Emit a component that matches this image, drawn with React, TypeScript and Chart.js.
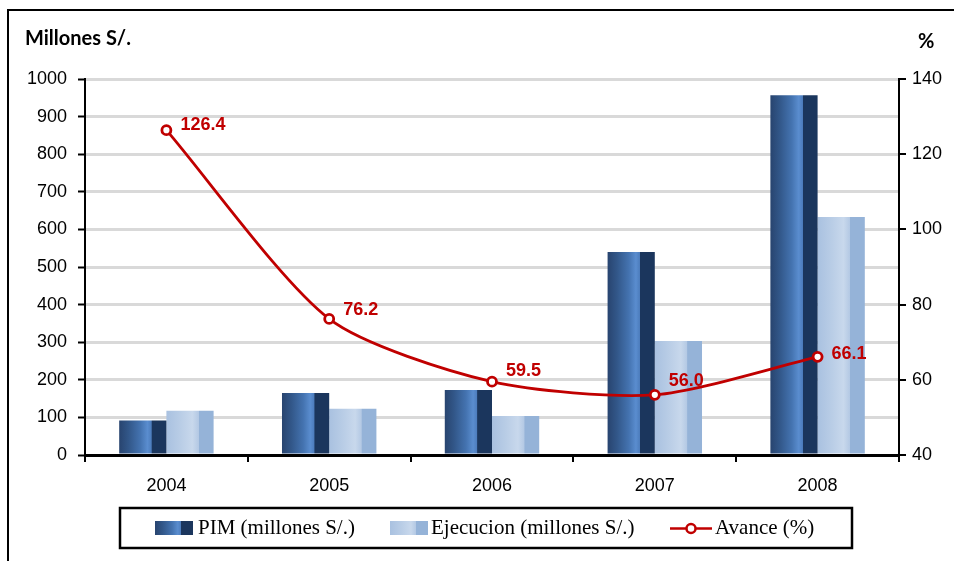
import React, { useEffect, useRef } from "react";
import { Chart, registerables } from "chart.js";

Chart.register(...registerables);

const categories = ["2004", "2005", "2006", "2007", "2008"];
const pimValues = [92, 165, 173, 540, 957];
const ejecucionValues = [118, 123, 104, 303, 633];
const avanceValues = [126.4, 76.2, 59.5, 56.0, 66.1];
const leftTicks = { min: 0, max: 1000, step: 100 };
const rightTicks = { min: 40, max: 140, step: 20 };
const seriesNames = ["PIM (millones S/.)", "Ejecucion (millones S/.)", "Avance (%)"];

const CAT_PCT = 0.58;
const RED = "#c00000";

const PIM_STOPS: [number, string][] = [
  [0, "#28446f"],
  [0.2, "#325789"],
  [0.45, "#4473b0"],
  [0.6, "#5a8dcf"],
  [0.68, "#4d7dbd"],
  [0.695, "#1b365d"],
  [1, "#1b365d"],
];
const EJE_STOPS: [number, string][] = [
  [0, "#a9c1e0"],
  [0.3, "#b9cde6"],
  [0.55, "#c8d8ec"],
  [0.68, "#b4c9e4"],
  [0.695, "#95b3d8"],
  [1, "#95b3d8"],
];

function gradientFor(chart: any, x0: number, w: number, stops: [number, string][]) {
  const g = chart.ctx.createLinearGradient(x0, 0, x0 + w, 0);
  stops.forEach(([o, c]) => g.addColorStop(o, c));
  return g;
}

function barBg(stops: [number, string][], slot: number) {
  return (ctx: any) => {
    const chart = ctx.chart;
    const xs = chart.scales && chart.scales.x;
    if (ctx.type !== "data" || !xs || !chart.chartArea) return stops[0][1];
    const center = xs.getPixelForValue(ctx.dataIndex);
    const catW = (xs.right - xs.left) / categories.length;
    const w = (catW * CAT_PCT) / 2;
    const x0 = slot === 0 ? center - w : center;
    return gradientFor(chart, x0, w, stops);
  };
}

const labelDy = [-5, -9, -11, -14, -3];

const decorPlugin = {
  id: "decor",
  afterDatasetsDraw(chart: any) {
    const ctx = chart.ctx;
    const meta = chart.getDatasetMeta(0);
    ctx.save();
    ctx.fillStyle = RED;
    ctx.font = "bold 18px 'Liberation Sans', Arial, sans-serif";
    ctx.textAlign = "left";
    ctx.textBaseline = "middle";
    meta.data.forEach((pt: any, i: number) => {
      ctx.fillText(avanceValues[i].toFixed(1), pt.x + 14, pt.y + labelDy[i]);
    });
    ctx.restore();
  },
  afterDraw(chart: any) {
    const ctx = chart.ctx;
    ctx.save();
    // outer frame
    ctx.strokeStyle = "#000";
    ctx.lineWidth = 2;
    ctx.beginPath();
    ctx.moveTo(8, 561);
    ctx.lineTo(8, 10);
    ctx.lineTo(954, 10);
    ctx.stroke();

    // axis titles
    ctx.fillStyle = "#000";
    ctx.font = "bold 20px Lato, 'Liberation Sans', sans-serif";
    ctx.textBaseline = "middle";
    ctx.textAlign = "left";
    ctx.fillText("Millones S/.", 25, 39);
    ctx.fillText("%", 918, 42);

    // legend box
    ctx.lineWidth = 2.5;
    ctx.strokeRect(120, 508, 732, 40);
    const ly = 528.5;
    ctx.font = "21px 'Liberation Serif', 'Times New Roman', serif";
    ctx.textBaseline = "middle";
    // PIM
    ctx.fillStyle = gradientFor(chart, 155, 38, PIM_STOPS);
    ctx.fillRect(155, 521, 38, 14);
    ctx.fillStyle = "#000";
    ctx.fillText(seriesNames[0], 198, ly);
    // Ejecucion
    ctx.fillStyle = gradientFor(chart, 390, 38, EJE_STOPS);
    ctx.fillRect(390, 521, 38, 14);
    ctx.fillStyle = "#000";
    ctx.fillText(seriesNames[1], 431, ly);
    // Avance
    ctx.strokeStyle = RED;
    ctx.lineWidth = 2.5;
    ctx.beginPath();
    ctx.moveTo(670, ly);
    ctx.lineTo(712, ly);
    ctx.stroke();
    ctx.beginPath();
    ctx.arc(691, ly, 4.5, 0, Math.PI * 2);
    ctx.fillStyle = "#fff";
    ctx.fill();
    ctx.stroke();
    ctx.fillStyle = "#000";
    ctx.fillText(seriesNames[2], 715, ly);
    ctx.restore();
  },
};

export default function App() {
  const ref = useRef<HTMLCanvasElement | null>(null);

  useEffect(() => {
    if (!ref.current) return;
    const tickFont = { family: "'Liberation Sans', Arial, sans-serif", size: 18 };
    const plain = (v: any) => String(v);
    const chart = new Chart(ref.current, {
      type: "bar",
      data: {
        labels: categories,
        datasets: [
          {
            type: "line",
            label: seriesNames[2],
            data: avanceValues,
            yAxisID: "y1",
            borderColor: RED,
            borderWidth: 2.8,
            tension: 0.25,
            pointRadius: 4.5,
            pointBackgroundColor: "#fff",
            pointBorderColor: RED,
            pointBorderWidth: 2.8,
            order: 0,
          } as any,
          {
            type: "bar",
            label: seriesNames[0],
            data: pimValues,
            yAxisID: "y",
            backgroundColor: barBg(PIM_STOPS, 0),
            borderWidth: 0,
            barPercentage: 1,
            categoryPercentage: CAT_PCT,
            order: 1,
          },
          {
            type: "bar",
            label: seriesNames[1],
            data: ejecucionValues,
            yAxisID: "y",
            backgroundColor: barBg(EJE_STOPS, 1),
            borderWidth: 0,
            barPercentage: 1,
            categoryPercentage: CAT_PCT,
            order: 2,
          },
        ],
      },
      options: {
        responsive: false,
        animation: false,
        layout: { padding: { top: 79, bottom: 66, left: 0, right: 0 } },
        plugins: {
          legend: { display: false },
          tooltip: { enabled: false },
          title: { display: false },
        },
        scales: {
          x: {
            offset: true,
            grid: {
              offset: true,
              drawOnChartArea: false,
              drawTicks: true,
              tickLength: 7,
              color: "#000",
              lineWidth: 2,
            },
            border: { display: true, color: "#000", width: 3 },
            ticks: { font: tickFont, color: "#000", padding: 13 },
            afterFit: (s: any) => {
              s.height = 40;
            },
          },
          y: {
            position: "left",
            min: leftTicks.min,
            max: leftTicks.max,
            ticks: { stepSize: leftTicks.step, font: tickFont, color: "#000", padding: 11, callback: plain },
            grid: {
              color: (c: any) => (c.tick && c.tick.value === 0 ? "rgba(0,0,0,0)" : "#d9d9d9"),
              lineWidth: 3,
              tickColor: "#000",
              tickWidth: 2,
              tickLength: 7,
            },
            border: { display: true, color: "#000", width: 2 },
            afterFit: (s: any) => {
              s.width = 85;
            },
          },
          y1: {
            position: "right",
            min: rightTicks.min,
            max: rightTicks.max,
            ticks: { stepSize: rightTicks.step, font: tickFont, color: "#000", padding: 6, callback: plain },
            grid: {
              drawOnChartArea: false,
              color: "#000",
              tickColor: "#000",
              tickWidth: 2,
              lineWidth: 2,
              tickLength: 7,
            },
            border: { display: true, color: "#000", width: 2 },
            afterFit: (s: any) => {
              s.width = 55;
            },
          },
        },
      } as any,
      plugins: [decorPlugin],
    });
    return () => chart.destroy();
  }, []);

  return (
    <div style={{ position: "fixed", left: 0, top: 0, width: 954, height: 561, background: "#fff" }}>
      <canvas ref={ref} width={954} height={561} style={{ display: "block" }} />
    </div>
  );
}
